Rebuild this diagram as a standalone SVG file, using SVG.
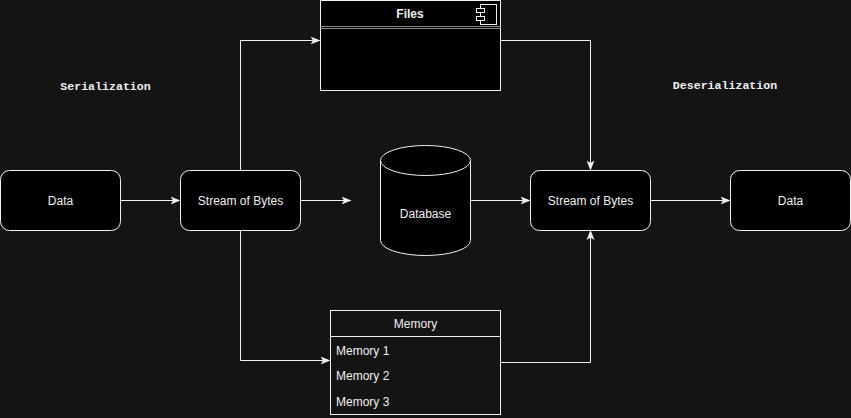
<svg xmlns="http://www.w3.org/2000/svg" width="851" height="418" viewBox="0 0 851 418">
<style>
.bg{fill:#141414}
.node{fill:#000;stroke:#f0f0f0;stroke-width:1}
.lbl{font-family:"Liberation Sans",Arial,sans-serif;font-size:12px;fill:#f0f0f0}
.mono{font-family:"Liberation Mono","Courier New",monospace;font-size:11.6px;font-weight:bold;fill:#f0f0f0}
.edge{fill:none;stroke:#f0f0f0;stroke-width:1}
</style>
<defs>
<marker id="arr" viewBox="0 0 10 10" refX="9" refY="5" markerWidth="10" markerHeight="10" markerUnits="userSpaceOnUse" orient="auto">
<path d="M0,1 L10,5 L0,9 L2.5,5 Z" fill="#f0f0f0"/>
</marker>
</defs>
<rect class="bg" x="0" y="0" width="851" height="418"/>
<text class="mono" x="105.5" y="90" text-anchor="middle">Serialization</text>
<text class="mono" x="725" y="89" text-anchor="middle">Deserialization</text>
<g id="connectors">
<path class="edge" d="M120.5,200.5 L179.5,200.5" marker-end="url(#arr)"/>
<path class="edge" d="M240.5,170.5 L240.5,40.5 L319.5,40.5" marker-end="url(#arr)"/>
<path class="edge" d="M300.5,200.5 L350.5,200.5" marker-end="url(#arr)"/>
<path class="edge" d="M240.5,230.5 L240.5,360.5 L329.5,360.5" marker-end="url(#arr)"/>
<path class="edge" d="M500.5,40.5 L590.5,40.5 L590.5,169.5" marker-end="url(#arr)"/>
<path class="edge" d="M470.5,200.5 L529.5,200.5" marker-end="url(#arr)"/>
<path class="edge" d="M500.5,362.5 L590.5,362.5 L590.5,231" marker-end="url(#arr)"/>
<path class="edge" d="M650.5,200.5 L729.5,200.5" marker-end="url(#arr)"/>
</g>
<g id="data-in">
<rect class="node" x="0.5" y="170.5" width="120" height="60" rx="9"/>
<text class="lbl" x="60.5" y="204.5" text-anchor="middle">Data</text>
</g>
<g id="stream-in">
<rect class="node" x="180.5" y="170.5" width="120" height="60" rx="9"/>
<text class="lbl" x="240.5" y="204.5" text-anchor="middle">Stream of Bytes</text>
</g>
<g id="files">
<rect class="node" x="320.5" y="0.5" width="180" height="90"/>
<line x1="320.5" y1="26.5" x2="500.5" y2="26.5" stroke="#8a8a8a"/>
<line x1="320.5" y1="28.5" x2="500.5" y2="28.5" stroke="#8a8a8a"/>
<text class="lbl" x="410" y="17.5" text-anchor="middle" font-weight="bold">Files</text>
<rect x="480.5" y="4.5" width="16" height="20" fill="none" stroke="#f0f0f0"/>
<rect x="476.5" y="8.5" width="8" height="4" fill="#000" stroke="#f0f0f0"/>
<rect x="476.5" y="16.5" width="8" height="4" fill="#000" stroke="#f0f0f0"/>
</g>
<g id="database">
<path class="node" d="M380.5,160.5 A45,15 0 0 1 470.5,160.5 L470.5,240.5 A45,15 0 0 1 380.5,240.5 Z"/>
<path d="M380.5,160.5 A45,15 0 0 0 470.5,160.5" fill="none" stroke="#f0f0f0"/>
<text class="lbl" x="425.5" y="218" text-anchor="middle">Database</text>
</g>
<g id="stream-out">
<rect class="node" x="530.5" y="170.5" width="120" height="60" rx="9"/>
<text class="lbl" x="590.5" y="204.5" text-anchor="middle">Stream of Bytes</text>
</g>
<g id="data-out">
<rect class="node" x="730.5" y="170.5" width="120" height="60" rx="9"/>
<text class="lbl" x="790.5" y="204.5" text-anchor="middle">Data</text>
</g>
<g id="memory">
<rect x="330.5" y="310.5" width="170" height="104" fill="#141414" stroke="#f0f0f0"/>
<line x1="330.5" y1="336.5" x2="500.5" y2="336.5" stroke="#f0f0f0"/>
<text class="lbl" x="415.5" y="328" text-anchor="middle">Memory</text>
<text class="lbl" x="336" y="354.5">Memory 1</text>
<text class="lbl" x="336" y="380">Memory 2</text>
<text class="lbl" x="336" y="405.5">Memory 3</text>
</g>
</svg>
